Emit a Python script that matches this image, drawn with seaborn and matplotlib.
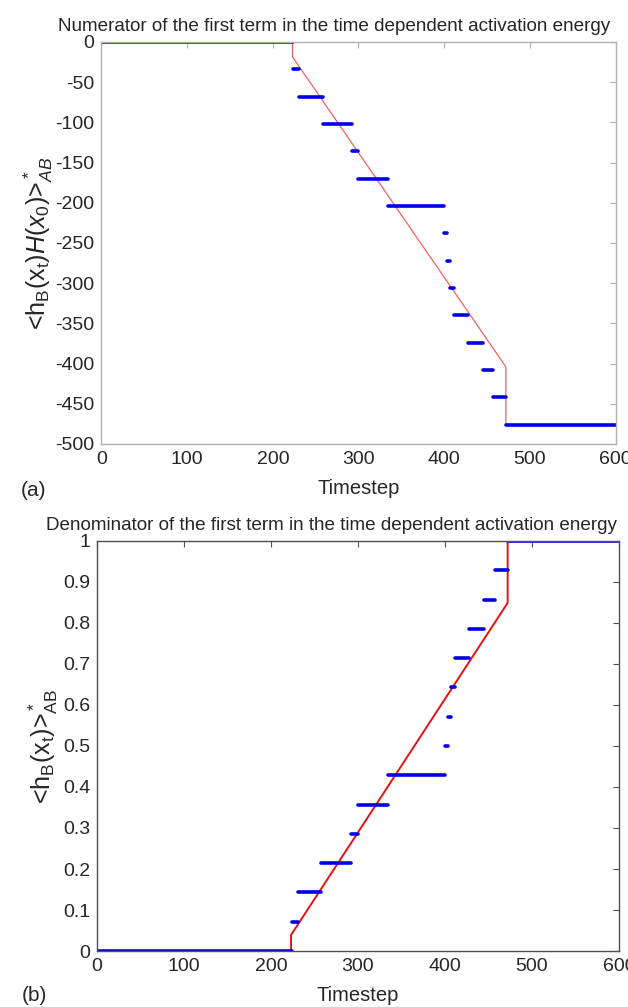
import matplotlib
matplotlib.use("Agg")
import numpy as np
import pandas as pd
import matplotlib.pyplot as plt
import seaborn as sns

sns.set_style("white")
plt.rcParams['font.family'] = ['Liberation Sans', 'DejaVu Sans']
plt.rcParams['mathtext.fontset'] = 'custom'
plt.rcParams['mathtext.rm'] = 'Liberation Sans'
plt.rcParams['mathtext.it'] = 'Liberation Sans:italic'
plt.rcParams['axes.unicode_minus'] = False

# step data (blue), one level per segment
step_start = [0, 224, 231, 258, 292, 300, 334, 400, 403, 407, 411, 428, 445, 457, 472]
step_end = [224, 231, 258, 292, 300, 334, 400, 403, 407, 411, 428, 445, 457, 472, 600]
num_levels = [0, -34, -68, -102, -136, -170, -204, -238, -272, -306, -340, -374, -408, -442, -476]
den_levels = [0, 0.071, 0.143, 0.214, 0.286, 0.357, 0.429, 0.5, 0.571, 0.643, 0.714,
              0.786, 0.857, 0.929, 1.0]

# red line
fit_t = [0, 223, 223, 472, 472, 600]
num_fit = [0, 0, -18.6, -404, -476, -476]
den_fit = [0, 0, 0.039, 0.849, 1.0, 1.0]


def seg_frame(levels):
    rows = []
    for i, (a, b, v) in enumerate(zip(step_start, step_end, levels)):
        rows.append((i, a, v))
        rows.append((i, b, v))
    return pd.DataFrame(rows, columns=["seg", "t", "v"])


def style_axes(ax, spine_col):
    for s in ax.spines.values():
        s.set_color(spine_col)
        s.set_linewidth(1.0)
    ax.tick_params(direction="in", length=4, width=0.8, color=spine_col,
                   top=True, right=True, labelsize=14, pad=5)
    ax.set_xlim(0, 600)
    ax.set_xticks([0, 100, 200, 300, 400, 500, 600])


fig = plt.figure(figsize=(6.28, 10.07), dpi=100)

# (a) numerator
ax1 = fig.add_axes([0.1616, 0.5591, 0.8185, 0.3992])
sns.lineplot(x=fit_t, y=num_fit, color="#f06262", lw=0.9, estimator=None, sort=False, ax=ax1)
sns.lineplot(data=seg_frame(num_levels), x="t", y="v", units="seg", estimator=None,
             color="#0000e6", lw=2.6, solid_capstyle="round", ax=ax1)
style_axes(ax1, "#b0b0b0")
ax1.set_ylim(-500, 0)
ax1.set_yticks(np.arange(-500, 1, 50))
ax1.set_title("Numerator of the first term in the time dependent activation energy",
              fontsize=13.6, x=0.452, pad=8)
ax1.set_xlabel("Timestep", fontsize=14.5, labelpad=8)
ax1.set_ylabel(r"<h$_\mathrm{B}$(x$_\mathrm{t}$)$H$($x_0$)>$^*_{AB}$", fontsize=18, labelpad=0)
fig.text(0.033, 0.5134, "(a)", fontsize=15, va="center")

# (b) denominator
ax2 = fig.add_axes([0.1545, 0.0556, 0.8312, 0.4072])
sns.lineplot(x=fit_t, y=den_fit, color="#e81010", lw=1.4, estimator=None, sort=False, ax=ax2)
sns.lineplot(data=seg_frame(den_levels), x="t", y="v", units="seg", estimator=None,
             color="#0000e6", lw=2.6, solid_capstyle="round", ax=ax2)
style_axes(ax2, "#505050")
ax2.set_ylim(0, 1)
ax2.set_yticks(np.round(np.arange(0, 1.01, 0.1), 1))
ax2.set_yticklabels(["0", "0.1", "0.2", "0.3", "0.4", "0.5", "0.6", "0.7", "0.8", "0.9", "1"])
ax2.set_title("Denominator of the first term in the time dependent activation energy",
              fontsize=13.6, x=0.45, pad=8)
ax2.set_xlabel("Timestep", fontsize=14.5, labelpad=8)
ax2.set_ylabel(r"<h$_\mathrm{B}$(x$_\mathrm{t}$)>$^*_\mathrm{AB}$", fontsize=18, labelpad=2)
fig.text(0.035, 0.011, "(b)", fontsize=15, va="center")

fig.savefig("out.png", dpi=100)
